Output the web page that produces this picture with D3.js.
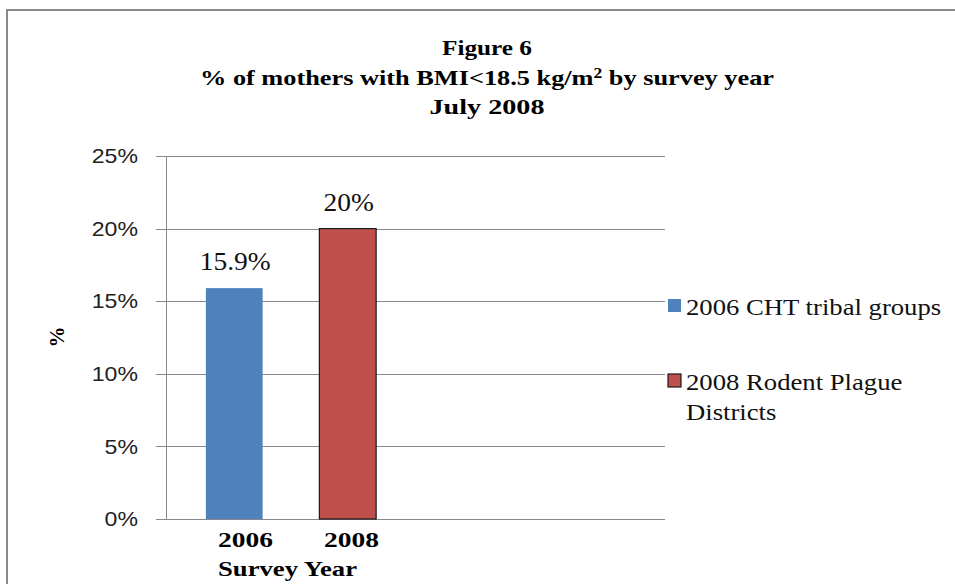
<!DOCTYPE html>
<html>
<head>
<meta charset="utf-8">
<script src="https://cdn.jsdelivr.net/npm/d3@7"></script>
<style>
  html, body { margin: 0; padding: 0; background: #fff; }
  svg { display: block; }
</style>
</head>
<body>
<svg id="chart" width="955" height="584"></svg>
<script>
// Data
const seriesNames = ["2006 CHT tribal groups", "2008 Rodent Plague Districts"];
const legendLines = [["2006 CHT tribal groups"], ["2008 Rodent Plague", "Districts"]];
const seriesValues = [15.9, 20];
const valueLabels = ["15.9%", "20%"];
const seriesColors = ["#4F81BD", "#C0504D"];
const yTicks = [0, 5, 10, 15, 20, 25];
const yearLabels = ["2006", "2008"];

const svg = d3.select("#chart");
const serif = "'Liberation Serif', 'Times New Roman', serif";
const sans = "'Liberation Sans', Arial, sans-serif";
const gridColor = "#888888";

// Widen text horizontally by factor k (keeps glyph height)
function stretch(selection, k) {
  selection.each(function () {
    const w = this.getComputedTextLength();
    d3.select(this).attr("textLength", w * k).attr("lengthAdjust", "spacingAndGlyphs");
  });
}

// Outer chart frame
svg.append("rect")
  .attr("x", 7).attr("y", 10)
  .attr("width", 960).attr("height", 590)
  .attr("fill", "#fff")
  .attr("stroke", "#8a8a8a").attr("stroke-width", 2);

// Title
const title = svg.append("text")
  .attr("font-family", serif).attr("font-weight", "bold")
  .attr("font-size", 21).attr("fill", "#000")
  .attr("text-anchor", "middle");
title.append("tspan").attr("x", 487).attr("y", 55)
  .attr("textLength", 90).attr("lengthAdjust", "spacingAndGlyphs")
  .text("Figure 6");
const t2 = title.append("tspan").attr("x", 487).attr("y", 85)
  .attr("textLength", 574).attr("lengthAdjust", "spacingAndGlyphs");
t2.append("tspan").text("% of mothers with BMI<18.5 kg/m");
t2.append("tspan").attr("font-size", 14).attr("dy", -7).text("2");
t2.append("tspan").attr("dy", 7).text(" by survey year");
title.append("tspan").attr("x", 487).attr("y", 114)
  .attr("textLength", 115).attr("lengthAdjust", "spacingAndGlyphs")
  .text("July 2008");

// Plot area
const plotLeft = 166, plotRight = 665, plotTop = 156, plotBottom = 519;

const y = d3.scaleLinear().domain([0, 25]).range([plotBottom, plotTop]);
const x = d3.scaleBand().domain(seriesNames)
  .range([plotLeft - 1, 417]).paddingInner(0.5).paddingOuter(0.36);

// Horizontal gridlines
const grid = svg.append("g")
  .attr("transform", `translate(${plotLeft},0)`)
  .call(d3.axisLeft(y).tickValues(yTicks).tickSize(-(plotRight - plotLeft)).tickFormat(""));
grid.select(".domain").remove();
grid.selectAll("line").attr("stroke", gridColor).attr("shape-rendering", "crispEdges");

// Y axis with tick labels
const yAxis = svg.append("g")
  .attr("transform", `translate(${plotLeft},0)`)
  .call(d3.axisLeft(y).tickValues(yTicks).tickSizeInner(10).tickSizeOuter(0)
    .tickPadding(18).tickFormat(d => d + "%"));
yAxis.select(".domain").attr("stroke", gridColor).attr("shape-rendering", "crispEdges");
yAxis.selectAll(".tick line").attr("stroke", gridColor).attr("shape-rendering", "crispEdges");
yAxis.selectAll(".tick text")
  .attr("font-family", sans).attr("font-size", 21).attr("fill", "#222")
  .call(stretch, 1.1);

// Bars
svg.append("g").selectAll("rect")
  .data(seriesNames)
  .join("rect")
  .attr("x", d => x(d))
  .attr("width", x.bandwidth())
  .attr("y", (d, i) => y(seriesValues[i]))
  .attr("height", (d, i) => y(0) - y(seriesValues[i]))
  .attr("fill", (d, i) => seriesColors[i])
  .attr("stroke", (d, i) => i === 1 ? "#1a1a1a" : "none")
  .attr("stroke-width", 1.2);

// Value labels
svg.append("g").selectAll("text")
  .data(seriesNames)
  .join("text")
  .attr("x", d => x(d) + x.bandwidth() / 2 + 1)
  .attr("y", (d, i) => y(seriesValues[i]) - 18)
  .attr("text-anchor", "middle")
  .attr("font-family", serif).attr("font-size", 25).attr("fill", "#111")
  .text((d, i) => valueLabels[i])
  .call(stretch, 1.1);

// Y axis title
svg.append("text")
  .attr("transform", "translate(64,337) rotate(-90)")
  .attr("text-anchor", "middle")
  .attr("font-family", serif).attr("font-weight", "bold").attr("font-size", 21)
  .text("%");

// X axis title: year labels over "Survey Year"
const xTitle = svg.append("text")
  .attr("font-family", serif).attr("font-weight", "bold").attr("font-size", 22)
  .attr("fill", "#000");
xTitle.selectAll("tspan.year")
  .data(yearLabels)
  .join("tspan")
  .attr("class", "year")
  .attr("x", (d, i) => 218 + i * 106)
  .attr("y", 547)
  .attr("textLength", 55).attr("lengthAdjust", "spacingAndGlyphs")
  .text(d => d);
xTitle.append("tspan").attr("x", 218).attr("y", 576)
  .attr("textLength", 139).attr("lengthAdjust", "spacingAndGlyphs")
  .text("Survey Year");

// Legend
const legendTop = [299, 374];
const legend = svg.append("g");
const items = legend.selectAll("g")
  .data(seriesNames)
  .join("g")
  .attr("transform", (d, i) => `translate(668,${legendTop[i]})`);
items.append("rect")
  .attr("width", 13).attr("height", 13)
  .attr("fill", (d, i) => seriesColors[i])
  .attr("stroke", (d, i) => i === 1 ? "#1a1a1a" : "none")
  .attr("stroke-width", 1.2);
items.each(function (d, i) {
  const t = d3.select(this).append("text")
    .attr("font-family", serif).attr("font-size", 23).attr("fill", "#111");
  legendLines[i].forEach((line, j) => {
    t.append("tspan").attr("x", 18).attr("y", 16 + j * 30).text(line)
      .call(stretch, 1.16);
  });
});
</script>
</body>
</html>
